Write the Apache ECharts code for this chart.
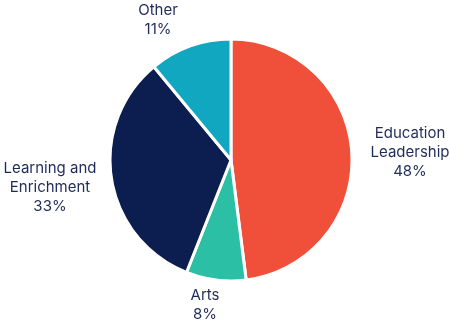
<!DOCTYPE html>
<html>
<head>
<meta charset="utf-8">
<script src="https://cdn.jsdelivr.net/npm/echarts@6/dist/echarts.min.js"></script>
<style>
  html, body { margin: 0; padding: 0; background: #fff; }
  #chart { width: 450px; height: 324px; }
</style>
</head>
<body>
<div id="chart"></div>
<script>
// 数据
const categories = ['Education\nLeadership', 'Arts', 'Learning and\nEnrichment', 'Other']
const shares = [48, 8, 33, 11]
const colors = ['#F04F39', '#2BBFA5', '#0B1E4F', '#12A7C1']
// 标签中心位置（像素）
const labelPos = [[410, 152], [205, 305], [50, 187], [158, 20]]

const chart = echarts.init(document.getElementById('chart'))
chart.setOption({
  animation: false,
  series: [
    {
      type: 'pie',
      center: [231, 160],
      radius: [0, 121],
      startAngle: 90,
      clockwise: true,
      itemStyle: { borderColor: '#fff', borderWidth: 3 },
      label: {
        show: true,
        position: 'outside',
        overflow: 'none',
        formatter: p => p.name + '\n' + p.value + '%',
        color: '#1F2B5A',
        fontFamily: 'Inter',
        fontSize: 15,
        lineHeight: 19,
      },
      labelLine: { show: false },
      labelLayout: p => ({
        x: labelPos[p.dataIndex][0],
        y: labelPos[p.dataIndex][1],
        align: 'center',
        verticalAlign: 'middle',
      }),
      data: categories.map((name, i) => ({
        name,
        value: shares[i],
        itemStyle: { color: colors[i] },
      })),
    },
  ],
})
</script>
</body>
</html>
